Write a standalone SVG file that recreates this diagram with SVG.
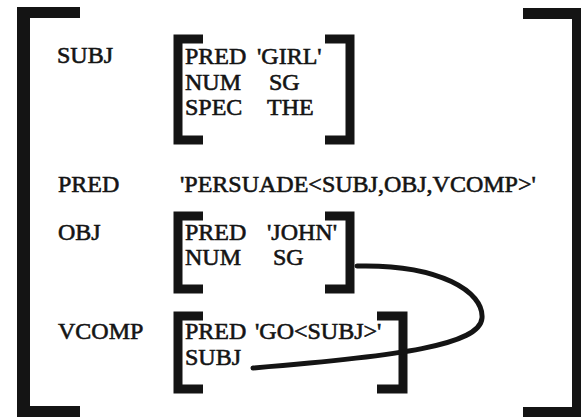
<svg xmlns="http://www.w3.org/2000/svg" width="581" height="417" viewBox="0 0 581 417">
<style>
.t{font-family:"Liberation Serif","Times New Roman",serif;font-size:24px;fill:#141414;stroke:#141414;stroke-width:0.6}
.br{fill:none;stroke:#141414;stroke-width:9;stroke-linejoin:miter;stroke-linecap:butt}
.ob{fill:#141414}
.link{fill:none;stroke:#141414;stroke-width:5;stroke-linecap:round}
</style>
<rect width="581" height="417" fill="#ffffff"/>
<g id="outer">
<rect class="ob" x="17" y="7" width="13" height="410"/>
<rect class="ob" x="17" y="7" width="63" height="11"/>
<rect class="ob" x="17" y="406" width="63" height="11"/>
<rect class="ob" x="523" y="8" width="58" height="11"/>
<rect class="ob" x="572" y="8" width="9" height="409"/>
<rect class="ob" x="523" y="407" width="58" height="10"/>
</g>
<g id="subj">
<text class="t" x="57" y="63">SUBJ</text>
<polyline class="br" points="203,39 178,39 178,140 203,140"/>
<polyline class="br" points="325,39 350,39 350,140 325,140"/>
<text class="t" x="185" y="64">PRED</text>
<text class="t" x="257" y="64">'GIRL'</text>
<text class="t" x="185" y="90">NUM</text>
<text class="t" x="269" y="90">SG</text>
<text class="t" x="185" y="115">SPEC</text>
<text class="t" x="267" y="115">THE</text>
</g>
<g id="pred">
<text class="t" x="58" y="192">PRED</text>
<text class="t" x="180" y="192">'PERSUADE&lt;SUBJ,OBJ,VCOMP&gt;'</text>
</g>
<g id="obj">
<text class="t" x="58" y="240">OBJ</text>
<polyline class="br" points="203,216 178,216 178,289 203,289"/>
<polyline class="br" points="325,216 350,216 350,289 325,289"/>
<text class="t" x="185" y="240">PRED</text>
<text class="t" x="267" y="240">'JOHN'</text>
<text class="t" x="185" y="265">NUM</text>
<text class="t" x="273" y="265">SG</text>
</g>
<g id="vcomp">
<text class="t" x="58" y="339">VCOMP</text>
<polyline class="br" points="203,316 178,316 178,389 203,389"/>
<polyline class="br" points="377,316 403,316 403,389 377,389"/>
<text class="t" x="185" y="339">PRED</text>
<text class="t" x="255" y="339">'GO&lt;SUBJ&gt;'</text>
<text class="t" x="185" y="365">SUBJ</text>
</g>
<g id="connectors">
<path class="link" d="M357,266 C440,264 484,292 482,318 C480,345 400,356 253,368"/>
</g>
</svg>
